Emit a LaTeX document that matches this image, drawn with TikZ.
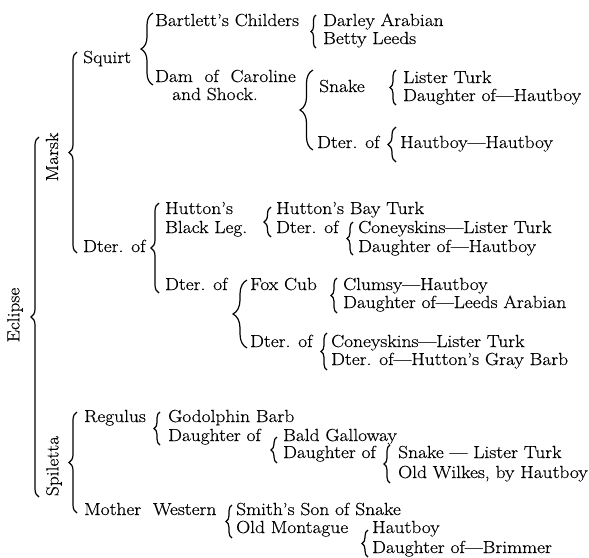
\documentclass[tikz,border=0pt]{standalone}
\usepackage{fontspec}
\setmainfont{Latin Modern Roman}[FakeStretch=1.11,FakeBold=0.4]
\usetikzlibrary{decorations.pathreplacing}
\newcommand\Brace[4][5]{\draw[br=#1] (#2,#4) -- (#2,#3);}
\begin{document}
\begin{tikzpicture}[x=1pt,y=-1pt,
  lbl/.style={anchor=base west,inner sep=0pt,font=\fontsize{17.5}{19}\selectfont},
  rlbl/.style={rotate=90,anchor=center,inner sep=0pt,font=\fontsize{17.5}{19}\selectfont},
  br/.style={decorate,decoration={brace,amplitude=#1},line width=1.2pt},
  br/.default=5]
\useasboundingbox (0,0) rectangle (589,557);
% rotated labels
\node[rlbl] (eclipse) at (15,315) {Eclipse};
\node[rlbl] (marsk) at (52,157) {Marsk};
\node[rlbl] (spiletta) at (54,466) {Spiletta};
% Marsk branch
\node[lbl] (squirt) at (83,63) {Squirt};
\node[lbl] (bartlett) at (155,26) {Bartlett's Childers};
\node[lbl] (darley) at (323,26) {Darley Arabian};
\node[lbl] (betty) at (323,44) {Betty Leeds};
\node[lbl] (dam) at (155,82) {Dam\ \ of\ \ Caroline};
\node[lbl] (shock) at (172,100) {and Shock.};
\node[lbl] (snake1) at (319,92) {Snake};
\node[lbl] (lister1) at (403,83) {Lister Turk};
\node[lbl] (dauh1) at (403,101) {Daughter of—Hautboy};
\node[lbl] (dter1) at (317,148) {Dter. of};
\node[lbl] (hauthaut) at (400,148) {Hautboy—Hautboy};
\node[lbl] (dterm) at (83,252) {Dter. of};
\node[lbl] (huttons) at (165,214) {Hutton's};
\node[lbl] (blackleg) at (165,233) {Black Leg.};
\node[lbl] (baytruk) at (276,214) {Hutton's Bay Turk};
\node[lbl] (dter2) at (276,233) {Dter. of};
\node[lbl] (coney1) at (358,233) {Coneyskins—Lister Turk};
\node[lbl] (dauh2) at (358,252) {Daughter of—Hautboy};
\node[lbl] (dter3) at (165,290) {Dter. of};
\node[lbl] (foxcub) at (250,290) {Fox Cub};
\node[lbl] (clumsy) at (343,290) {Clumsy—Hautboy};
\node[lbl] (leeds) at (343,308) {Daughter of—Leeds Arabian};
\node[lbl] (dter4) at (250,347) {Dter. of};
\node[lbl] (coney2) at (331,347) {Coneyskins—Lister Turk};
\node[lbl] (gray) at (331,365) {Dter. of—Hutton's Gray Barb};
% Spiletta branch
\node[lbl] (regulus) at (84,422) {Regulus};
\node[lbl] (godolphin) at (168,422) {Godolphin Barb};
\node[lbl] (dau3) at (168,441) {Daughter of};
\node[lbl] (bald) at (283,441) {Bald Galloway};
\node[lbl] (dau4) at (283,458) {Daughter of};
\node[lbl] (snake2) at (398,458) {Snake — Lister Turk};
\node[lbl] (wilkes) at (398,478) {Old Wilkes, by Hautboy};
\node[lbl] (mother) at (84,515) {Mother\ \ Western};
\node[lbl] (smith) at (236,515) {Smith's Son of Snake};
\node[lbl] (montague) at (236,533) {Old Montague};
\node[lbl] (haut3) at (372,533) {Hautboy};
\node[lbl] (brimmer) at (372,553) {Daughter of—Brimmer};
% braces
\Brace[8]{39}{137}{497}
\Brace[8]{77}{52}{253}
\Brace[12]{153}{13}{85}
\Brace[5]{316}{15}{48}
\Brace[13]{313}{70}{150}
\Brace[6]{396}{70}{105}
\Brace[8]{396}{127}{162}
\Brace[8]{159}{203}{293}
\Brace[7]{271}{207}{237}
\Brace[6]{353}{222}{255}
\Brace[14]{247}{280}{348}
\Brace[6]{337}{278}{313}
\Brace[6]{327}{333}{370}
\Brace[8]{77}{412}{513}
\Brace[6]{160}{412}{445}
\Brace[6]{277}{437}{463}
\Brace[6]{390}{445}{483}
\Brace[6]{232}{505}{538}
\Brace[6]{368}{530}{557}
\end{tikzpicture}
\end{document}
